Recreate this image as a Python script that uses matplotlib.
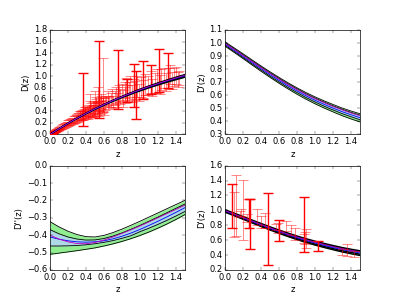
import matplotlib
matplotlib.use("Agg")
import matplotlib.pyplot as plt

plt.style.use("classic")

# redshift grid for the reconstructed curves
z_grid = [0.0, 0.1, 0.2, 0.3, 0.4, 0.5, 0.6, 0.7, 0.8, 0.9, 1.0, 1.1, 1.2, 1.3, 1.4, 1.5]

# D(z): 2-sigma (green), 1-sigma (light blue), mean (blue), fiducial (magenta)
d_g_hi = [0, .098, .191, .280, .364, .443, .518, .589, .655, .718, .778, .834, .887, .937, .985, 1.031]
d_b_hi = [0, .098, .190, .278, .362, .440, .514, .585, .650, .712, .771, .826, .878, .928, .975, 1.020]
d_mean = [0, .097, .189, .276, .359, .437, .510, .580, .645, .706, .764, .819, .870, .919, .965, 1.009]
d_fid = [0, .097, .190, .278, .361, .440, .514, .584, .649, .711, .769, .825, .876, .926, .973, 1.018]
d_b_lo = [0, .096, .188, .274, .356, .434, .506, .575, .639, .700, .757, .811, .861, .909, .954, .997]
d_g_lo = [0, .096, .187, .273, .354, .431, .502, .570, .634, .693, .749, .802, .851, .898, .942, .985]

# D'(z)
d1_g_hi = [1.008, .963, .917, .870, .824, .779, .736, .695, .656, .620, .587, .557, .529, .502, .479, .458]
d1_b_hi = [1.000, .955, .908, .862, .815, .770, .727, .685, .647, .610, .577, .547, .518, .492, .468, .447]
d1_mean = [.990, .944, .897, .850, .803, .757, .713, .671, .632, .595, .561, .530, .501, .474, .450, .428]
d1_fid = [.996, .951, .904, .858, .811, .766, .723, .681, .643, .606, .573, .543, .514, .488, .464, .443]
d1_b_lo = [.982, .935, .888, .840, .793, .746, .702, .659, .620, .582, .548, .516, .487, .459, .435, .412]
d1_g_lo = [.975, .928, .880, .831, .783, .736, .691, .648, .607, .569, .534, .502, .472, .443, .418, .395]

# D''(z)
d2_g_hi = [-.322, -.352, -.377, -.396, -.408, -.410, -.401, -.385, -.365, -.343, -.320, -.296, -.272, -.248, -.224, -.200]
d2_b_hi = [-.368, -.392, -.410, -.422, -.428, -.427, -.419, -.405, -.387, -.366, -.344, -.320, -.296, -.271, -.246, -.221]
d2_mean = [-.410, -.423, -.432, -.438, -.440, -.438, -.432, -.421, -.406, -.388, -.367, -.344, -.320, -.295, -.269, -.242]
d2_fid = [-.400, -.422, -.438, -.448, -.449, -.442, -.428, -.410, -.390, -.369, -.347, -.324, -.300, -.276, -.252, -.228]
d2_b_lo = [-.462, -.462, -.461, -.459, -.455, -.449, -.441, -.431, -.418, -.403, -.380, -.360, -.338, -.315, -.290, -.264]
d2_g_lo = [-.510, -.503, -.496, -.489, -.481, -.473, -.462, -.450, -.436, -.420, -.402, -.382, -.360, -.336, -.310, -.282]

# supernova distances (faint points)
sn_z = [0.010, 0.012, 0.014, 0.015, 0.017, 0.019, 0.021, 0.023, 0.025, 0.027, 0.029, 0.031, 0.033, 0.035,
        0.037, 0.040, 0.043, 0.046, 0.049, 0.053, 0.057, 0.062, 0.067, 0.072, 0.078, 0.084, 0.090, 0.096,
        0.105, 0.115, 0.125, 0.135, 0.145, 0.155, 0.165, 0.175, 0.185, 0.195, 0.205, 0.215, 0.225, 0.235,
        0.245, 0.255, 0.265, 0.275, 0.285, 0.295,
        0.305, 0.315, 0.325, 0.335, 0.345, 0.355, 0.365, 0.375, 0.385, 0.395, 0.405, 0.415, 0.425, 0.435,
        0.445, 0.455, 0.465, 0.475, 0.485, 0.495, 0.505, 0.515, 0.525, 0.535, 0.545, 0.555, 0.565, 0.575,
        0.585, 0.595, 0.33, 0.36, 0.39, 0.42, 0.45, 0.48, 0.51, 0.54, 0.57, 0.60, 0.44, 0.50, 0.53, 0.59,
        0.61, 0.62, 0.64, 0.65, 0.66, 0.68, 0.69, 0.70, 0.72, 0.73, 0.75, 0.77, 0.78, 0.80, 0.81, 0.83,
        0.84, 0.85, 0.86, 0.88, 0.89, 0.91, 0.93, 0.95, 0.97, 0.99,
        1.01, 1.04, 1.06, 1.09, 1.12, 1.14, 1.17, 1.19, 1.22, 1.24, 1.27, 1.29, 1.32, 1.34, 1.36, 1.38,
        1.40, 1.42, 1.44]
sn_d = [0.010, 0.012, 0.015, 0.014, 0.018, 0.018, 0.022, 0.022, 0.026, 0.026, 0.030, 0.030, 0.034, 0.034,
        0.038, 0.039, 0.044, 0.045, 0.050, 0.051, 0.058, 0.060, 0.068, 0.070, 0.079, 0.081, 0.091, 0.093,
        0.104, 0.110, 0.123, 0.128, 0.143, 0.146, 0.162, 0.165, 0.180, 0.181, 0.200, 0.199, 0.215, 0.221,
        0.238, 0.236, 0.258, 0.255, 0.276, 0.272,
        0.29, 0.31, 0.30, 0.33, 0.31, 0.35, 0.33, 0.37, 0.34, 0.39, 0.36, 0.41, 0.37, 0.42,
        0.39, 0.45, 0.40, 0.46, 0.41, 0.48, 0.43, 0.50, 0.44, 0.47, 0.52, 0.46, 0.55, 0.48,
        0.53, 0.50, 0.34, 0.32, 0.40, 0.36, 0.47, 0.40, 0.53, 0.43, 0.58, 0.46, 0.52, 0.55, 0.62, 0.85,
        0.52, 0.58, 0.54, 0.62, 0.57, 0.60, 0.65, 0.56, 0.63, 0.68, 0.60, 0.70, 0.66, 0.72, 0.62, 0.75,
        0.68, 0.80, 0.70, 0.74, 0.82, 0.70, 0.78, 0.76, 0.82, 0.72,
        0.82, 0.78, 0.86, 0.84, 0.90, 0.81, 0.88, 0.92, 0.86, 0.94, 0.97, 0.90, 0.96, 1.03, 0.93, 0.99,
        1.01, 0.95, 0.97]
sn_err = [0.004, 0.004, 0.005, 0.005, 0.006, 0.006, 0.007, 0.007, 0.008, 0.008, 0.009, 0.009, 0.010, 0.010,
          0.011, 0.011, 0.012, 0.012, 0.013, 0.013, 0.014, 0.014, 0.015, 0.016, 0.017, 0.018, 0.019, 0.020,
          0.022, 0.024, 0.026, 0.028, 0.030, 0.032, 0.034, 0.036, 0.038, 0.040, 0.042, 0.044, 0.046, 0.048,
          0.050, 0.052, 0.054, 0.056, 0.058, 0.060,
          0.06, 0.06, 0.065, 0.065, 0.07, 0.07, 0.075, 0.075, 0.08, 0.08, 0.085, 0.085, 0.09, 0.09,
          0.09, 0.095, 0.095, 0.10, 0.10, 0.10, 0.105, 0.105, 0.11, 0.11, 0.11, 0.115, 0.115, 0.12,
          0.12, 0.12, 0.07, 0.08, 0.08, 0.09, 0.10, 0.10, 0.11, 0.11, 0.12, 0.12, 0.18, 0.20, 0.20, 0.46,
          0.10, 0.09, 0.11, 0.12, 0.10, 0.12, 0.13, 0.11, 0.12, 0.14, 0.12, 0.15, 0.13, 0.15, 0.14, 0.16,
          0.14, 0.17, 0.15, 0.16, 0.18, 0.15, 0.17, 0.16, 0.18, 0.15,
          0.17, 0.15, 0.18, 0.16, 0.19, 0.15, 0.17, 0.20, 0.16, 0.18, 0.17, 0.15, 0.18, 0.17, 0.14, 0.16,
          0.15, 0.13, 0.12]

# supernova outliers (solid red)
sn_z_big = [0.37, 0.55, 0.76, 0.86, 0.94, 0.96, 1.03, 1.12, 1.21, 1.31]
sn_d_big = [0.60, 0.95, 0.95, 0.75, 0.85, 0.68, 0.94, 0.95, 1.10, 1.10]
sn_err_big = [0.45, 0.66, 0.51, 0.20, 0.37, 0.42, 0.33, 0.25, 0.37, 0.30]

# H(z) derived D'(z)
hz_z = [0.10, 0.12, 0.17, 0.18, 0.20, 0.24, 0.35, 0.40, 0.44, 0.57, 0.59, 0.68, 0.73, 0.78, 0.875,
        0.89, 0.90, 1.30, 1.36, 1.43]
hz_d = [0.945, 1.07, 0.95, 0.97, 1.005, 0.90, 0.91, 0.84, 0.87, 0.78, 0.76, 0.79, 0.74, 0.68, 0.62,
        0.63, 0.62, 0.44, 0.47, 0.42]
hz_err = [0.30, 0.41, 0.04, 0.05, 0.405, 0.05, 0.11, 0.08, 0.10, 0.04, 0.07, 0.07, 0.07, 0.08, 0.06,
          0.08, 0.13, 0.04, 0.08, 0.04]
hz_z_big = [0.07, 0.27, 0.28, 0.48, 0.60, 0.88, 1.037]
hz_d_big = [1.06, 0.96, 0.815, 0.75, 0.73, 0.81, 0.52]
hz_err_big = [0.30, 0.19, 0.335, 0.48, 0.14, 0.365, 0.07]


def draw_bands(ax, g_lo, b_lo, mean, fid, b_hi, g_hi, lw=1.2, z=2):
    ax.fill_between(z_grid, g_lo, g_hi, color="lightgreen", lw=0, zorder=z)
    ax.fill_between(z_grid, b_lo, b_hi, color="lightblue", lw=0, zorder=z)
    for c in (g_lo, b_lo, b_hi, g_hi):
        ax.plot(z_grid, c, color="k", lw=lw, zorder=z)
    ax.plot(z_grid, mean, color="b", lw=1.2, zorder=z)
    ax.plot(z_grid, fid, color="m", lw=1.2, zorder=z)


def draw_bars(ax, x, y, err, alpha, lw=1.5, z=3):
    ax.errorbar(x, y, yerr=err, fmt="none", ecolor="#ff0000", alpha=alpha, capsize=7,
                elinewidth=lw, capthick=lw, zorder=z)


fig = plt.figure(figsize=(8, 6), dpi=50, facecolor="white")
fig.subplots_adjust(left=0.125, right=0.9, bottom=0.1, top=0.9, wspace=0.3, hspace=0.3)

ax1 = fig.add_subplot(2, 2, 1)
draw_bands(ax1, d_g_lo, d_b_lo, d_mean, d_fid, d_b_hi, d_g_hi, lw=2, z=4)
draw_bars(ax1, sn_z, sn_d, sn_err, 0.45)
draw_bars(ax1, sn_z_big, sn_d_big, sn_err_big, 1.0, lw=2)
ax1.set_xlim(0, 1.5)
ax1.set_ylim(0, 1.8)
ax1.set_xlabel("z")
ax1.set_ylabel("D(z)")

ax2 = fig.add_subplot(2, 2, 2)
draw_bands(ax2, d1_g_lo, d1_b_lo, d1_mean, d1_fid, d1_b_hi, d1_g_hi)
ax2.set_xlim(0, 1.5)
ax2.set_ylim(0.3, 1.1)
ax2.set_xlabel("z")
ax2.set_ylabel("D'(z)")

ax3 = fig.add_subplot(2, 2, 3)
draw_bands(ax3, d2_g_lo, d2_b_lo, d2_mean, d2_fid, d2_b_hi, d2_g_hi)
ax3.set_xlim(0, 1.5)
ax3.set_ylim(-0.6, 0.0)
ax3.set_xlabel("z")
ax3.set_ylabel("D''(z)")

ax4 = fig.add_subplot(2, 2, 4)
draw_bands(ax4, d1_g_lo, d1_b_lo, d1_mean, d1_fid, d1_b_hi, d1_g_hi, lw=2)
draw_bars(ax4, hz_z, hz_d, hz_err, 0.45)
draw_bars(ax4, hz_z_big, hz_d_big, hz_err_big, 1.0, lw=2)
ax4.set_xlim(0, 1.5)
ax4.set_ylim(0.2, 1.6)
ax4.set_xlabel("z")
ax4.set_ylabel("D'(z)")

for ax in (ax1, ax2, ax3, ax4):
    ax.set_xticks([0.0, 0.2, 0.4, 0.6, 0.8, 1.0, 1.2, 1.4])

fig.savefig("out.png", dpi=50, facecolor="white")
